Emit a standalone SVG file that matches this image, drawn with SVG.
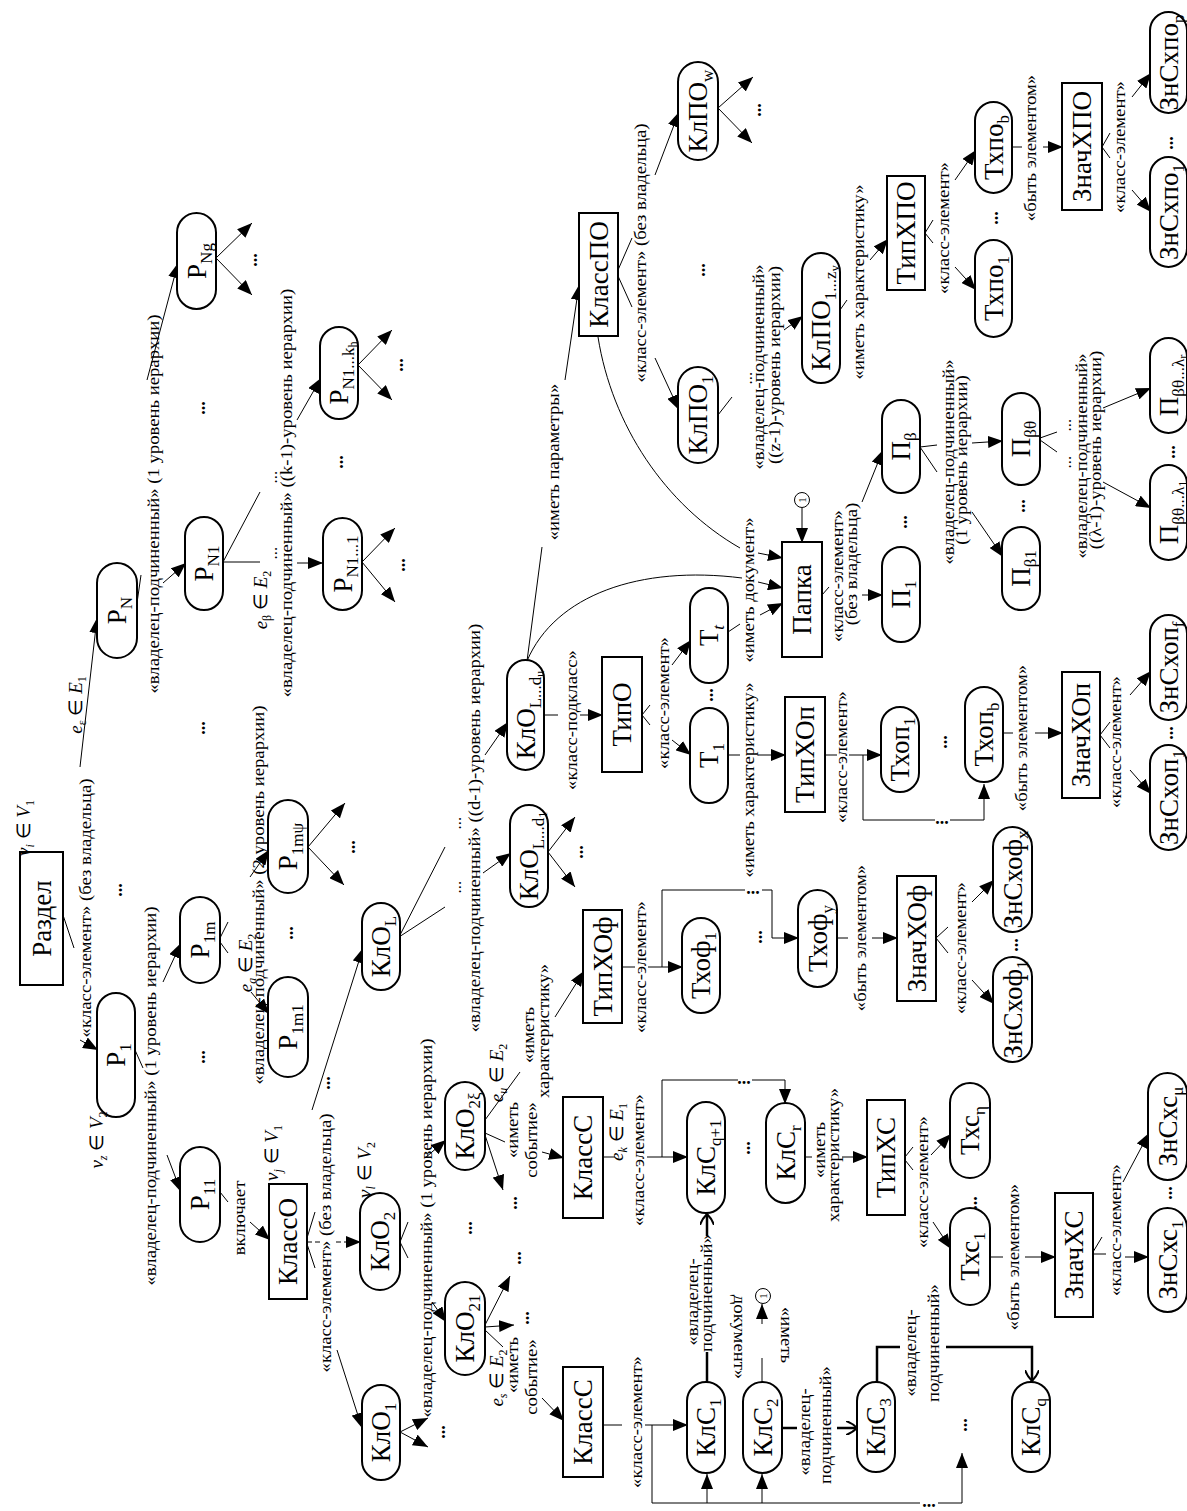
<svg xmlns="http://www.w3.org/2000/svg" width="1187" height="1511" viewBox="0 0 1187 1511">
<defs>
<marker id="a" viewBox="0 0 15 12" refX="15" refY="6" markerWidth="15" markerHeight="12" markerUnits="userSpaceOnUse" orient="auto"><path d="M0,0 L15,6 L0,12 z" fill="#000"/></marker>
<marker id="o" viewBox="0 0 12 14" refX="11" refY="7" markerWidth="12" markerHeight="14" markerUnits="userSpaceOnUse" orient="auto"><path d="M0,0 Q6,2 11,7 Q6,12 0,14" fill="none" stroke="#000" stroke-width="2"/></marker>
</defs>
<style>
.p{fill:#fff;stroke:#000;stroke-width:2}
.n{font-family:"Liberation Serif",serif;font-size:27px;text-anchor:middle}
.s{font-size:17px}
.ss{font-size:12px}
.l{font-family:"Liberation Serif",serif;font-size:17px;text-anchor:middle}
.e{font-family:"Liberation Serif",serif;font-size:19px;text-anchor:middle}
.i{font-style:italic}
.d{font-family:"Liberation Serif",serif;font-size:18px;font-weight:bold;text-anchor:middle}
.c line,.c path,.c polyline{fill:none;stroke:#000;stroke-width:1}
.c .t{stroke-width:2.5}
</style>
<rect width="1187" height="1511" fill="#fff"/>

<g id="connectors" class="c">
<line x1="63" y1="915" x2="74" y2="948"/>
<line x1="80" y1="1040" x2="98" y2="1050" marker-end="url(#a)"/>
<line x1="80" y1="767" x2="97" y2="618" marker-end="url(#a)"/>
<line x1="135" y1="1050" x2="143" y2="1068"/>
<line x1="163" y1="982" x2="181" y2="943" marker-end="url(#a)"/>
<line x1="167" y1="1155" x2="181" y2="1192" marker-end="url(#a)"/>
<line x1="137" y1="603" x2="141" y2="575"/>
<line x1="163" y1="583" x2="186" y2="563" marker-end="url(#a)"/>
<line x1="147" y1="380" x2="178" y2="263" marker-end="url(#a)"/>
<line x1="223" y1="562" x2="260" y2="562"/>
<line x1="223" y1="562" x2="260" y2="492"/>
<line x1="297" y1="563" x2="323" y2="563" marker-end="url(#a)"/>
<line x1="297" y1="420" x2="321" y2="378" marker-end="url(#a)"/>
<line x1="362" y1="562" x2="395" y2="528" marker-end="url(#a)"/>
<line x1="362" y1="562" x2="395" y2="602" marker-end="url(#a)"/>
<line x1="358" y1="365" x2="392" y2="330" marker-end="url(#a)"/>
<line x1="358" y1="365" x2="392" y2="400" marker-end="url(#a)"/>
<line x1="216" y1="258" x2="252" y2="223" marker-end="url(#a)"/>
<line x1="216" y1="258" x2="252" y2="295" marker-end="url(#a)"/>
<line x1="308" y1="847" x2="345" y2="803" marker-end="url(#a)"/>
<line x1="308" y1="847" x2="344" y2="885" marker-end="url(#a)"/>
<line x1="220" y1="938" x2="228" y2="922"/>
<line x1="220" y1="942" x2="228" y2="953"/>
<line x1="250" y1="877" x2="269" y2="850" marker-end="url(#a)"/>
<line x1="251" y1="992" x2="269" y2="1014" marker-end="url(#a)"/>
<line x1="220" y1="1192" x2="228" y2="1202"/>
<line x1="250" y1="1222" x2="270" y2="1240" marker-end="url(#a)"/>
<line x1="307" y1="1238" x2="315" y2="1212"/>
<line x1="307" y1="1244" x2="315" y2="1268"/>
<line x1="307" y1="1242" x2="320" y2="1242" stroke-dasharray="5 3"/>
<line x1="336" y1="1242" x2="361" y2="1242" stroke-dasharray="5 3" marker-end="url(#a)"/>
<line x1="337" y1="1350" x2="362" y2="1428" marker-end="url(#a)"/>
<line x1="312" y1="1110" x2="363" y2="948" marker-end="url(#a)"/>
<line x1="400" y1="1432" x2="428" y2="1418" marker-end="url(#a)"/>
<line x1="400" y1="1432" x2="428" y2="1447" marker-end="url(#a)"/>
<line x1="400" y1="1242" x2="408" y2="1222"/>
<line x1="400" y1="1242" x2="408" y2="1258"/>
<line x1="432" y1="1302" x2="446" y2="1322" marker-end="url(#a)"/>
<line x1="425" y1="1158" x2="446" y2="1140" marker-end="url(#a)"/>
<line x1="485" y1="1325" x2="510" y2="1276" marker-end="url(#a)"/>
<line x1="485" y1="1327" x2="514" y2="1325" marker-end="url(#a)"/>
<line x1="485" y1="1330" x2="503" y2="1347"/>
<line x1="542" y1="1398" x2="564" y2="1421" marker-end="url(#a)"/>
<line x1="485" y1="1133" x2="505" y2="1142"/>
<line x1="485" y1="1135" x2="503" y2="1190" marker-end="url(#a)"/>
<line x1="485" y1="1120" x2="520" y2="1072"/>
<line x1="542" y1="1152" x2="564" y2="1158" marker-end="url(#a)"/>
<line x1="555" y1="1017" x2="584" y2="971" marker-end="url(#a)"/>
<line x1="399" y1="937" x2="445" y2="847"/>
<line x1="399" y1="937" x2="445" y2="907"/>
<line x1="483" y1="873" x2="511" y2="853" marker-end="url(#a)"/>
<line x1="485" y1="755" x2="508" y2="722" marker-end="url(#a)"/>
<line x1="548" y1="852" x2="575" y2="817" marker-end="url(#a)"/>
<line x1="548" y1="852" x2="575" y2="887" marker-end="url(#a)"/>
<line x1="543" y1="715" x2="558" y2="715"/>
<line x1="580" y1="715" x2="603" y2="715" marker-end="url(#a)"/>
<line x1="527" y1="661" x2="542" y2="547"/>
<line x1="565" y1="380" x2="579" y2="285" marker-end="url(#a)"/>
<path d="M527,661 C555,595 640,565 742,578"/>
<line x1="758" y1="582" x2="783" y2="588" marker-end="url(#a)"/>
<path d="M598,337 C612,425 665,505 740,548"/>
<line x1="758" y1="553" x2="783" y2="558" marker-end="url(#a)"/>
<line x1="728" y1="632" x2="740" y2="624"/>
<line x1="760" y1="615" x2="783" y2="603" marker-end="url(#a)"/>
<line x1="642" y1="715" x2="650" y2="705"/>
<line x1="642" y1="715" x2="650" y2="725"/>
<line x1="672" y1="665" x2="691" y2="640" marker-end="url(#a)"/>
<line x1="672" y1="740" x2="691" y2="755" marker-end="url(#a)"/>
<line x1="728" y1="755" x2="740" y2="755"/>
<line x1="758" y1="755" x2="786" y2="755" marker-end="url(#a)"/>
<line x1="825" y1="755" x2="837" y2="755"/>
<line x1="849" y1="755" x2="882" y2="755" marker-end="url(#a)"/>
<polyline points="863,755 863,820 935,820"/>
<polyline points="950,820 984,820 984,784" marker-end="url(#a)"/>
<line x1="1003" y1="733" x2="1013" y2="733"/>
<line x1="1035" y1="733" x2="1063" y2="733" marker-end="url(#a)"/>
<line x1="1100" y1="735" x2="1110" y2="722"/>
<line x1="1100" y1="735" x2="1110" y2="748"/>
<line x1="1130" y1="695" x2="1151" y2="671" marker-end="url(#a)"/>
<line x1="1130" y1="770" x2="1151" y2="794" marker-end="url(#a)"/>
<line x1="622" y1="967" x2="635" y2="967"/>
<line x1="648" y1="967" x2="683" y2="967" marker-end="url(#a)"/>
<polyline points="662,967 662,890 745,890"/>
<polyline points="762,890 772,890 772,938 799,938" marker-end="url(#a)"/>
<line x1="837" y1="938" x2="848" y2="938"/>
<line x1="872" y1="938" x2="898" y2="938" marker-end="url(#a)"/>
<line x1="936" y1="938" x2="948" y2="927"/>
<line x1="936" y1="938" x2="948" y2="953"/>
<line x1="972" y1="902" x2="994" y2="880" marker-end="url(#a)"/>
<line x1="972" y1="980" x2="994" y2="1004" marker-end="url(#a)"/>
<line x1="603" y1="1425" x2="622" y2="1425"/>
<line x1="645" y1="1425" x2="688" y2="1425" marker-end="url(#a)"/>
<polyline points="652,1425 652,1503 920,1503"/>
<polyline points="938,1503 962,1503 962,1453" marker-end="url(#a)"/>
<line x1="707" y1="1503" x2="707" y2="1474" marker-end="url(#a)"/>
<line x1="762" y1="1503" x2="762" y2="1474" marker-end="url(#a)"/>
<line x1="603" y1="1157" x2="615" y2="1157"/>
<line x1="647" y1="1157" x2="688" y2="1157" marker-end="url(#a)"/>
<polyline points="662,1157 662,1080 738,1080"/>
<polyline points="752,1080 785,1080 785,1104" marker-end="url(#a)"/>
<line class="t" x1="707" y1="1382" x2="707" y2="1352"/>
<line class="t" x1="707" y1="1236" x2="707" y2="1214" marker-end="url(#o)"/>
<line x1="762" y1="1382" x2="762" y2="1358"/>
<line x1="762" y1="1324" x2="762" y2="1304" marker-end="url(#a)"/>
<line class="t" x1="782" y1="1428" x2="797" y2="1428"/>
<line class="t" x1="837" y1="1428" x2="857" y2="1428" marker-end="url(#o)"/>
<polyline class="t" points="877,1382 877,1347 900,1347"/>
<polyline class="t" points="946,1347 1032,1347 1032,1381" marker-end="url(#o)"/>
<line x1="805" y1="1157" x2="812" y2="1157"/>
<line x1="842" y1="1157" x2="868" y2="1157" marker-end="url(#a)"/>
<line x1="905" y1="1157" x2="913" y2="1147"/>
<line x1="905" y1="1160" x2="913" y2="1170"/>
<line x1="933" y1="1222" x2="951" y2="1249" marker-end="url(#a)"/>
<line x1="931" y1="1155" x2="951" y2="1134" marker-end="url(#a)"/>
<line x1="990" y1="1257" x2="1003" y2="1257"/>
<line x1="1025" y1="1257" x2="1056" y2="1257" marker-end="url(#a)"/>
<line x1="1093" y1="1252" x2="1102" y2="1237"/>
<line x1="1093" y1="1254" x2="1106" y2="1254"/>
<line x1="1125" y1="1257" x2="1149" y2="1257" marker-end="url(#a)"/>
<line x1="1123" y1="1182" x2="1149" y2="1133" marker-end="url(#a)"/>
<line x1="822" y1="595" x2="829" y2="587"/>
<line x1="862" y1="595" x2="883" y2="595" marker-end="url(#a)"/>
<line x1="862" y1="502" x2="883" y2="450" marker-end="url(#a)"/>
<line x1="802" y1="508" x2="802" y2="543" marker-end="url(#a)"/>
<line x1="920" y1="447" x2="937" y2="445"/>
<line x1="920" y1="447" x2="937" y2="472"/>
<line x1="972" y1="512" x2="1003" y2="557" marker-end="url(#a)"/>
<line x1="972" y1="443" x2="1003" y2="441" marker-end="url(#a)"/>
<line x1="1040" y1="438" x2="1057" y2="432"/>
<line x1="1040" y1="440" x2="1057" y2="452"/>
<line x1="1103" y1="482" x2="1151" y2="508" marker-end="url(#a)"/>
<line x1="1103" y1="408" x2="1151" y2="388" marker-end="url(#a)"/>
<line x1="618" y1="270" x2="632" y2="238"/>
<line x1="618" y1="276" x2="632" y2="307"/>
<line x1="655" y1="175" x2="679" y2="112" marker-end="url(#a)"/>
<line x1="655" y1="358" x2="679" y2="410" marker-end="url(#a)"/>
<line x1="718" y1="108" x2="753" y2="77" marker-end="url(#a)"/>
<line x1="718" y1="108" x2="752" y2="143" marker-end="url(#a)"/>
<line x1="718" y1="415" x2="732" y2="397"/>
<line x1="784" y1="330" x2="803" y2="316" marker-end="url(#a)"/>
<line x1="840" y1="310" x2="847" y2="300"/>
<line x1="870" y1="260" x2="888" y2="239" marker-end="url(#a)"/>
<line x1="925" y1="233" x2="933" y2="220"/>
<line x1="925" y1="233" x2="933" y2="243"/>
<line x1="955" y1="267" x2="976" y2="290" marker-end="url(#a)"/>
<line x1="955" y1="180" x2="976" y2="150" marker-end="url(#a)"/>
<line x1="1012" y1="147" x2="1022" y2="147"/>
<line x1="1043" y1="147" x2="1063" y2="147" marker-end="url(#a)"/>
<line x1="1102" y1="147" x2="1110" y2="133"/>
<line x1="1102" y1="147" x2="1110" y2="158"/>
<line x1="1132" y1="190" x2="1151" y2="212" marker-end="url(#a)"/>
<line x1="1132" y1="97" x2="1151" y2="73" marker-end="url(#a)"/>
</g>

<g id="nodes">
<g id="razdel"><rect class="p" x="20" y="852" width="43" height="133"/><text class="n" transform="translate(41.5,918.5) rotate(-90)" y="9">Раздел</text></g>
<g id="pN"><rect class="p" x="97" y="563" width="40" height="95" rx="20"/><text class="n" transform="translate(117,610.5) rotate(-90)" y="9">P<tspan class="s" dy="6">N</tspan></text></g>
<g id="pNg"><rect class="p" x="177" y="213" width="39" height="96" rx="19.5"/><text class="n" transform="translate(196.5,261) rotate(-90)" y="9">P<tspan class="s" dy="6">Ng</tspan></text></g>
<g id="pN1"><rect class="p" x="185" y="517" width="38" height="93" rx="19"/><text class="n" transform="translate(204,563.5) rotate(-90)" y="9">P<tspan class="s" dy="6">N1</tspan></text></g>
<g id="pN1_1"><rect class="p" x="323" y="518" width="39" height="92" rx="19.5"/><text class="n" transform="translate(342.5,564) rotate(-90)" y="9">P<tspan class="s" dy="6">N1...1</tspan></text></g>
<g id="pN1_k"><rect class="p" x="320" y="327" width="38" height="92" rx="19"/><text class="n" transform="translate(339,373) rotate(-90)" y="9">P<tspan class="s" dy="6">N1...k</tspan><tspan class="ss" dy="3">h</tspan></text></g>
<g id="p1"><rect class="p" x="97" y="993" width="38" height="124" rx="19"/><text class="n" transform="translate(116,1055) rotate(-90)" y="9">P<tspan class="s" dy="6">1</tspan></text></g>
<g id="p1m"><rect class="p" x="180" y="897" width="40" height="86" rx="20"/><text class="n" transform="translate(200,940) rotate(-90)" y="9">P<tspan class="s" dy="6">1m</tspan></text></g>
<g id="p11"><rect class="p" x="180" y="1147" width="40" height="95" rx="20"/><text class="n" transform="translate(200,1194.5) rotate(-90)" y="9">P<tspan class="s" dy="6">11</tspan></text></g>
<g id="p1m1"><rect class="p" x="268" y="977" width="40" height="100" rx="20"/><text class="n" transform="translate(288,1027) rotate(-90)" y="9">P<tspan class="s" dy="6">1m1</tspan></text></g>
<g id="p1mpsi"><rect class="p" x="268" y="800" width="40" height="93" rx="20"/><text class="n" transform="translate(288,846.5) rotate(-90)" y="9">P<tspan class="s" dy="6">1mψ</tspan></text></g>
<g id="klassO"><rect class="p" x="269" y="1184" width="38" height="115"/><text class="n" transform="translate(288,1241.5) rotate(-90)" y="9">КлассО</text></g>
<g id="kloL"><rect class="p" x="362" y="903" width="38" height="87" rx="19"/><text class="n" transform="translate(381,946.5) rotate(-90)" y="9">КлО<tspan class="s" dy="6">L</tspan></text></g>
<g id="klo1"><rect class="p" x="362" y="1385" width="38" height="95" rx="19"/><text class="n" transform="translate(381,1432.5) rotate(-90)" y="9">КлО<tspan class="s" dy="6">1</tspan></text></g>
<g id="klo2"><rect class="p" x="360" y="1193" width="40" height="97" rx="20"/><text class="n" transform="translate(380,1241.5) rotate(-90)" y="9">КлО<tspan class="s" dy="6">2</tspan></text></g>
<g id="klo21"><rect class="p" x="445" y="1282" width="40" height="93" rx="20"/><text class="n" transform="translate(465,1328.5) rotate(-90)" y="9">КлО<tspan class="s" dy="6">21</tspan></text></g>
<g id="klo2xi"><rect class="p" x="445" y="1082" width="40" height="88" rx="20"/><text class="n" transform="translate(465,1126) rotate(-90)" y="9">КлО<tspan class="s" dy="6">2ξ</tspan></text></g>
<g id="kloLd1"><rect class="p" x="510" y="805" width="38" height="102" rx="19"/><text class="n" transform="translate(529,856) rotate(-90)" y="9">КлО<tspan class="s" dy="6">L...d</tspan><tspan class="ss" dy="3">1</tspan></text></g>
<g id="kloLdu"><rect class="p" x="507" y="660" width="37" height="110" rx="18.5"/><text class="n" transform="translate(525.5,715) rotate(-90)" y="9">КлО<tspan class="s" dy="6">L...d</tspan><tspan class="ss" dy="3">u</tspan></text></g>
<g id="klassC1"><rect class="p" x="563" y="1367" width="40" height="110"/><text class="n" transform="translate(583,1422) rotate(-90)" y="9">КлассС</text></g>
<g id="klassC2"><rect class="p" x="563" y="1097" width="40" height="121"/><text class="n" transform="translate(583,1157.5) rotate(-90)" y="9">КлассС</text></g>
<g id="tipHOf"><rect class="p" x="583" y="910" width="39" height="113"/><text class="n" transform="translate(602.5,966.5) rotate(-90)" y="9">ТипХОф</text></g>
<g id="tipO"><rect class="p" x="602" y="657" width="40" height="115"/><text class="n" transform="translate(622,714.5) rotate(-90)" y="9">ТипО</text></g>
<g id="klassPO"><rect class="p" x="579" y="213" width="39" height="123"/><text class="n" transform="translate(598.5,274.5) rotate(-90)" y="9">КлассПО</text></g>
<g id="klpo1"><rect class="p" x="678" y="367" width="40" height="96" rx="20"/><text class="n" transform="translate(698,415) rotate(-90)" y="9">КлПО<tspan class="s" dy="6">1</tspan></text></g>
<g id="klpow"><rect class="p" x="678" y="62" width="40" height="98" rx="20"/><text class="n" transform="translate(698,111) rotate(-90)" y="9">КлПО<tspan class="s" dy="6">w</tspan></text></g>
<g id="klpo1z"><rect class="p" x="802" y="253" width="38" height="130" rx="19"/><text class="n" transform="translate(821,318) rotate(-90)" y="9">КлПО<tspan class="s" dy="6">1...z</tspan><tspan class="ss" dy="3">v</tspan></text></g>
<g id="Tt"><rect class="p" x="690" y="588" width="38" height="95" rx="19"/><text class="n" transform="translate(709,635.5) rotate(-90)" y="9">T<tspan class="s i" dy="6">t</tspan></text></g>
<g id="T1"><rect class="p" x="690" y="708" width="38" height="95" rx="19"/><text class="n" transform="translate(709,755.5) rotate(-90)" y="9">T<tspan class="s" dy="6">1</tspan></text></g>
<g id="thof1"><rect class="p" x="682" y="918" width="38" height="95" rx="19"/><text class="n" transform="translate(701,965.5) rotate(-90)" y="9">Тхоф<tspan class="s" dy="6">1</tspan></text></g>
<g id="klc1"><rect class="p" x="687" y="1382" width="38" height="91" rx="19"/><text class="n" transform="translate(706,1427.5) rotate(-90)" y="9">КлС<tspan class="s" dy="6">1</tspan></text></g>
<g id="klc2"><rect class="p" x="743" y="1382" width="39" height="91" rx="19.5"/><text class="n" transform="translate(762.5,1427.5) rotate(-90)" y="9">КлС<tspan class="s" dy="6">2</tspan></text></g>
<g id="klcq1"><rect class="p" x="687" y="1102" width="38" height="111" rx="19"/><text class="n" transform="translate(706,1157.5) rotate(-90)" y="9">КлС<tspan class="s" dy="6">q+1</tspan></text></g>
<g id="klcr"><rect class="p" x="766" y="1103" width="39" height="100" rx="19.5"/><text class="n" transform="translate(785.5,1153) rotate(-90)" y="9">КлС<tspan class="s" dy="6">r</tspan></text></g>
<g id="papka"><rect class="p" x="782" y="542" width="40" height="115"/><text class="n" transform="translate(802,599.5) rotate(-90)" y="9">Папка</text></g>
<g id="tipHOp"><rect class="p" x="785" y="697" width="40" height="115"/><text class="n" transform="translate(805,754.5) rotate(-90)" y="9">ТипХОп</text></g>
<g id="thofy"><rect class="p" x="798" y="890" width="39" height="97" rx="19.5"/><text class="n" transform="translate(817.5,938.5) rotate(-90)" y="9">Тхоф<tspan class="s" dy="6">y</tspan></text></g>
<g id="klc3"><rect class="p" x="857" y="1382" width="38" height="90" rx="19"/><text class="n" transform="translate(876,1427) rotate(-90)" y="9">КлС<tspan class="s" dy="6">3</tspan></text></g>
<g id="tipHS"><rect class="p" x="867" y="1100" width="38" height="115"/><text class="n" transform="translate(886,1157.5) rotate(-90)" y="9">ТипХС</text></g>
<g id="tipHPO"><rect class="p" x="887" y="176" width="38" height="114"/><text class="n" transform="translate(906,233) rotate(-90)" y="9">ТипХПО</text></g>
<g id="P_1"><rect class="p" x="882" y="547" width="38" height="95" rx="19"/><text class="n" transform="translate(901,594.5) rotate(-90)" y="9">П<tspan class="s" dy="6">1</tspan></text></g>
<g id="P_b"><rect class="p" x="882" y="400" width="38" height="93" rx="19"/><text class="n" transform="translate(901,446.5) rotate(-90)" y="9">П<tspan class="s" dy="6">β</tspan></text></g>
<g id="thop1"><rect class="p" x="881" y="707" width="38" height="85" rx="19"/><text class="n" transform="translate(900,749.5) rotate(-90)" y="9">Тхоп<tspan class="s" dy="6">1</tspan></text></g>
<g id="znachHOf"><rect class="p" x="897" y="876" width="39" height="125"/><text class="n" transform="translate(916.5,938.5) rotate(-90)" y="9">ЗначХОф</text></g>
<g id="ths1"><rect class="p" x="950" y="1208" width="40" height="97" rx="20"/><text class="n" transform="translate(970,1256.5) rotate(-90)" y="9">Тхс<tspan class="s" dy="6">1</tspan></text></g>
<g id="thseta"><rect class="p" x="950" y="1083" width="40" height="95" rx="20"/><text class="n" transform="translate(970,1130.5) rotate(-90)" y="9">Тхс<tspan class="s" dy="6">η</tspan></text></g>
<g id="thpo1"><rect class="p" x="975" y="240" width="37" height="97" rx="18.5"/><text class="n" transform="translate(993.5,288.5) rotate(-90)" y="9">Тхпо<tspan class="s" dy="6">1</tspan></text></g>
<g id="thpob"><rect class="p" x="975" y="102" width="37" height="91" rx="18.5"/><text class="n" transform="translate(993.5,147.5) rotate(-90)" y="9">Тхпо<tspan class="s" dy="6">b</tspan></text></g>
<g id="thopb"><rect class="p" x="965" y="687" width="38" height="95" rx="19"/><text class="n" transform="translate(984,734.5) rotate(-90)" y="9">Тхоп<tspan class="s" dy="6">b</tspan></text></g>
<g id="znshof1"><rect class="p" x="993" y="957" width="39" height="105" rx="19.5"/><text class="n" transform="translate(1012.5,1009.5) rotate(-90)" y="9">ЗнСхоф<tspan class="s" dy="6">1</tspan></text></g>
<g id="znshofx"><rect class="p" x="993" y="827" width="39" height="105" rx="19.5"/><text class="n" transform="translate(1012.5,879.5) rotate(-90)" y="9">ЗнСхоф<tspan class="s" dy="6">x</tspan></text></g>
<g id="P_b1"><rect class="p" x="1002" y="527" width="38" height="83" rx="19"/><text class="n" transform="translate(1021,568.5) rotate(-90)" y="9">П<tspan class="s" dy="6">β1</tspan></text></g>
<g id="P_bt"><rect class="p" x="1002" y="393" width="38" height="92" rx="19"/><text class="n" transform="translate(1021,439) rotate(-90)" y="9">П<tspan class="s" dy="6">βθ</tspan></text></g>
<g id="klcq"><rect class="p" x="1012" y="1382" width="38" height="90" rx="19"/><text class="n" transform="translate(1031,1427) rotate(-90)" y="9">КлС<tspan class="s" dy="6">q</tspan></text></g>
<g id="znachHS"><rect class="p" x="1055" y="1193" width="38" height="124"/><text class="n" transform="translate(1074,1255) rotate(-90)" y="9">ЗначХС</text></g>
<g id="znachHOp"><rect class="p" x="1062" y="672" width="38" height="126"/><text class="n" transform="translate(1081,735) rotate(-90)" y="9">ЗначХОп</text></g>
<g id="znachHPO"><rect class="p" x="1062" y="83" width="40" height="127"/><text class="n" transform="translate(1082,146.5) rotate(-90)" y="9">ЗначХПО</text></g>
<g id="P_btl1"><rect class="p" x="1150" y="465" width="37" height="95" rx="18.5"/><text class="n" transform="translate(1168.5,512.5) rotate(-90)" y="9">П<tspan class="s" dy="6">βθ...λ</tspan><tspan class="ss" dy="3">1</tspan></text></g>
<g id="P_btlr"><rect class="p" x="1150" y="338" width="37" height="95" rx="18.5"/><text class="n" transform="translate(1168.5,385.5) rotate(-90)" y="9">П<tspan class="s" dy="6">βθ...λ</tspan><tspan class="ss" dy="3">r</tspan></text></g>
<g id="znshop1"><rect class="p" x="1150" y="745" width="37" height="105" rx="18.5"/><text class="n" transform="translate(1168.5,797.5) rotate(-90)" y="9">ЗнСхоп<tspan class="s" dy="6">1</tspan></text></g>
<g id="znshopf"><rect class="p" x="1150" y="615" width="37" height="105" rx="18.5"/><text class="n" transform="translate(1168.5,667.5) rotate(-90)" y="9">ЗнСхоп<tspan class="s" dy="6">f</tspan></text></g>
<g id="znshpo1"><rect class="p" x="1150" y="157" width="37" height="110" rx="18.5"/><text class="n" transform="translate(1168.5,212) rotate(-90)" y="9">ЗнСхпо<tspan class="s" dy="6">1</tspan></text></g>
<g id="znshpop"><rect class="p" x="1150" y="12" width="37" height="101" rx="18.5"/><text class="n" transform="translate(1168.5,62.5) rotate(-90)" y="9">ЗнСхпо<tspan class="s" dy="6">p</tspan></text></g>
<g id="znshs1"><rect class="p" x="1148" y="1208" width="39" height="104" rx="19.5"/><text class="n" transform="translate(1167.5,1260) rotate(-90)" y="9">ЗнСхс<tspan class="s" dy="6">1</tspan></text></g>
<g id="znshsmu"><rect class="p" x="1148" y="1073" width="39" height="107" rx="19.5"/><text class="n" transform="translate(1167.5,1126.5) rotate(-90)" y="9">ЗнСхс<tspan class="s" dy="6">μ</tspan></text></g>
<g id="ref1a"><circle cx="763" cy="1296" r="7.5" fill="#fff" stroke="#000"/><text class="l" style="font-size:11px" transform="translate(763,1296) rotate(-90)" y="4">1</text></g>
<g id="ref1b"><circle cx="802" cy="500" r="7.5" fill="#fff" stroke="#000"/><text class="l" style="font-size:11px" transform="translate(802,500) rotate(-90)" y="4">1</text></g>
</g>

<g id="labels">
<text class="l" transform="translate(87,908) rotate(-90) scale(1.1,1)" y="4">«класс-элемент» (без владельца)</text>
<text class="e" transform="translate(76,705) rotate(-90)" y="6"><tspan class="i">e</tspan><tspan font-size="12" dy="4">ε</tspan><tspan dy="-4"> ∈ </tspan><tspan class="i">E</tspan><tspan font-size="12" dy="4">1</tspan></text>
<text class="e" transform="translate(24,828) rotate(-90)" y="6"><tspan class="i">v</tspan><tspan class="i" font-size="12" dy="4">i</tspan><tspan dy="-4"> ∈ </tspan><tspan class="i">V</tspan><tspan font-size="12" dy="4">1</tspan></text>
<text class="e" transform="translate(97,1140) rotate(-90)" y="6"><tspan class="i">v</tspan><tspan class="i" font-size="12" dy="4">z</tspan><tspan dy="-4"> ∈ </tspan><tspan class="i">V</tspan><tspan font-size="12" dy="4">2</tspan></text>
<text class="l" transform="translate(152,1096) rotate(-90) scale(1.1,1)" y="4">«владелец-подчиненный» (1 уровень иерархии)</text>
<text class="l" transform="translate(155,504) rotate(-90) scale(1.1,1)" y="4">«владелец-подчиненный» (1 уровень иерархии)</text>
<text class="l" transform="translate(260,895) rotate(-90) scale(1.1,1)" y="4">«владелец-подчиненный» (2 уровень иерархии)</text>
<text class="e" transform="translate(246,963) rotate(-90)" y="6"><tspan class="i">e</tspan><tspan class="i" font-size="12" dy="4">a</tspan><tspan dy="-4"> ∈ </tspan><tspan class="i">E</tspan><tspan font-size="12" dy="4">2</tspan></text>
<text class="e" transform="translate(261,600) rotate(-90)" y="6"><tspan class="i">e</tspan><tspan font-size="12" dy="4">β</tspan><tspan dy="-4"> ∈ </tspan><tspan class="i">E</tspan><tspan font-size="12" dy="4">2</tspan></text>
<text class="l" transform="translate(288,493) rotate(-90) scale(1.1,1)" y="4">«владелец-подчиненный» ((k-1)-уровень иерархии)</text>
<text class="l" transform="translate(241,1218) rotate(-90) scale(1.1,1)" y="4">включает</text>
<text class="e" transform="translate(272,1153) rotate(-90)" y="6"><tspan class="i">v</tspan><tspan class="i" font-size="12" dy="4">j</tspan><tspan dy="-4"> ∈ </tspan><tspan class="i">V</tspan><tspan font-size="12" dy="4">1</tspan></text>
<text class="l" transform="translate(327,1243) rotate(-90) scale(1.1,1)" y="4">«класс-элемент» (без владельца)</text>
<text class="e" transform="translate(365,1170) rotate(-90)" y="6"><tspan class="i">v</tspan><tspan class="i" font-size="12" dy="4">l</tspan><tspan dy="-4"> ∈ </tspan><tspan class="i">V</tspan><tspan font-size="12" dy="4">2</tspan></text>
<text class="l" transform="translate(428,1228) rotate(-90) scale(1.1,1)" y="4">«владелец-подчиненный» (1 уровень иерархии)</text>
<text class="l" transform="translate(476,828) rotate(-90) scale(1.1,1)" y="4">«владелец-подчиненный» ((d-1)-уровень иерархии)</text>
<text class="e" transform="translate(497,1378) rotate(-90)" y="6"><tspan class="i">e</tspan><tspan class="i" font-size="12" dy="4">s</tspan><tspan dy="-4"> ∈ </tspan><tspan class="i">E</tspan><tspan font-size="12" dy="4">2</tspan></text>
<text class="l" transform="translate(514,1365) rotate(-90) scale(1.1,1)" y="4">«иметь</text>
<text class="l" transform="translate(533,1377) rotate(-90) scale(1.1,1)" y="4">событие»</text>
<text class="l" transform="translate(514,1130) rotate(-90) scale(1.1,1)" y="4">«иметь</text>
<text class="l" transform="translate(533,1140) rotate(-90) scale(1.1,1)" y="4">событие»</text>
<text class="e" transform="translate(497,1073) rotate(-90)" y="6"><tspan class="i">e</tspan><tspan class="i" font-size="12" dy="4">u</tspan><tspan dy="-4"> ∈ </tspan><tspan class="i">E</tspan><tspan font-size="12" dy="4">2</tspan></text>
<text class="l" transform="translate(530,1035) rotate(-90) scale(1.1,1)" y="4">«иметь</text>
<text class="l" transform="translate(545,1031) rotate(-90) scale(1.1,1)" y="4">характеристику»</text>
<text class="l" transform="translate(638,1422) rotate(-90) scale(1.1,1)" y="4">«класс-элемент»</text>
<text class="e" transform="translate(617,1132) rotate(-90)" y="6"><tspan class="i">e</tspan><tspan class="i" font-size="12" dy="4">k</tspan><tspan dy="-4"> ∈ </tspan><tspan class="i">E</tspan><tspan font-size="12" dy="4">1</tspan></text>
<text class="l" transform="translate(640,1160) rotate(-90) scale(1.1,1)" y="4">«класс-элемент»</text>
<text class="l" transform="translate(555,462) rotate(-90) scale(1.1,1)" y="4">«иметь параметры»</text>
<text class="l" transform="translate(573,720) rotate(-90) scale(1.1,1)" y="4">«класс-подкласс»</text>
<text class="l" transform="translate(665,703) rotate(-90) scale(1.1,1)" y="4">«класс-элемент»</text>
<text class="l" transform="translate(642,253) rotate(-90) scale(1.1,1)" y="4">«класс-элемент» (без владельца)</text>
<text class="l" transform="translate(642,967) rotate(-90) scale(1.1,1)" y="4">«класс-элемент»</text>
<text class="l" transform="translate(750,590) rotate(-90) scale(1.1,1)" y="4">«иметь документ»</text>
<text class="l" transform="translate(750,780) rotate(-90) scale(1.1,1)" y="4">«иметь характеристику»</text>
<text class="l" transform="translate(694,1302) rotate(-90) scale(1.1,1)" y="4">«владелец-</text>
<text class="l" transform="translate(708,1293) rotate(-90) scale(1.1,1)" y="4">подчиненный»</text>
<text class="l" transform="translate(785,1335) rotate(90) scale(1.1,1)" y="4">«иметь</text>
<text class="l" transform="translate(738,1337) rotate(90) scale(1.1,1)" y="4">документ»</text>
<text class="l" transform="translate(806,1432) rotate(-90) scale(1.1,1)" y="4">«владелец-</text>
<text class="l" transform="translate(827,1425) rotate(-90) scale(1.1,1)" y="4">подчиненный»</text>
<text class="l" transform="translate(912,1353) rotate(-90) scale(1.1,1)" y="4">«владелец-</text>
<text class="l" transform="translate(935,1343) rotate(-90) scale(1.1,1)" y="4">подчиненный»</text>
<text class="l" transform="translate(821,1150) rotate(-90) scale(1.1,1)" y="4">«иметь</text>
<text class="l" transform="translate(835,1155) rotate(-90) scale(1.1,1)" y="4">характеристику»</text>
<text class="l" transform="translate(924,1182) rotate(-90) scale(1.1,1)" y="4">«класс-элемент»</text>
<text class="l" transform="translate(1015,1257) rotate(-90) scale(1.1,1)" y="4">«быть элементом»</text>
<text class="l" transform="translate(1117,1230) rotate(-90) scale(1.1,1)" y="4">«класс-элемент»</text>
<text class="l" transform="translate(843,757) rotate(-90) scale(1.1,1)" y="4">«класс-элемент»</text>
<text class="l" transform="translate(1023,738) rotate(-90) scale(1.1,1)" y="4">«быть элементом»</text>
<text class="l" transform="translate(1117,742) rotate(-90) scale(1.1,1)" y="4">«класс-элемент»</text>
<text class="l" transform="translate(862,938) rotate(-90) scale(1.1,1)" y="4">«быть элементом»</text>
<text class="l" transform="translate(962,948) rotate(-90) scale(1.1,1)" y="4">«класс-элемент»</text>
<text class="l" transform="translate(839,576) rotate(-90) scale(1.1,1)" y="4">«класс-элемент»</text>
<text class="l" transform="translate(853,564) rotate(-90) scale(1.1,1)" y="4">(без владельца)</text>
<text class="l" transform="translate(950,462) rotate(-90) scale(1.1,1)" y="4">«владелец-подчиненный»</text>
<text class="l" transform="translate(963,460) rotate(-90) scale(1.1,1)" y="4">(1 уровень иерархии)</text>
<text class="l" transform="translate(1083,456) rotate(-90) scale(1.1,1)" y="4">«владелец-подчиненный»</text>
<text class="l" transform="translate(1097,450) rotate(-90) scale(1.1,1)" y="4">((λ-1)-уровень иерархии)</text>
<text class="l" transform="translate(760,367) rotate(-90) scale(1.1,1)" y="4">«владелец-подчиненный»</text>
<text class="l" transform="translate(776,365) rotate(-90) scale(1.1,1)" y="4">((z-1)-уровень иерархии)</text>
<text class="l" transform="translate(860,282) rotate(-90) scale(1.1,1)" y="4">«иметь характеристику»</text>
<text class="l" transform="translate(945,228) rotate(-90) scale(1.1,1)" y="4">«класс-элемент»</text>
<text class="l" transform="translate(1032,148) rotate(-90) scale(1.1,1)" y="4">«быть элементом»</text>
<text class="l" transform="translate(1121,147) rotate(-90) scale(1.1,1)" y="4">«класс-элемент»</text>
</g>

<g id="dots">
<text class="d" transform="translate(117,890) rotate(-90)" y="5">...</text>
<text class="d" transform="translate(200,1057) rotate(-90)" y="5">...</text>
<text class="d" transform="translate(200,728) rotate(-90)" y="5">...</text>
<text class="d" transform="translate(200,408) rotate(-90)" y="5">...</text>
<text class="d" transform="translate(288,933) rotate(-90)" y="5">...</text>
<text class="d" transform="translate(338,462) rotate(-90)" y="5">...</text>
<text class="d" transform="translate(325,1083) rotate(-90)" y="5">...</text>
<text class="d" transform="translate(252,260) rotate(-90)" y="5">...</text>
<text class="d" transform="translate(400,565) rotate(-90)" y="5">...</text>
<text class="d" transform="translate(398,365) rotate(-90)" y="5">...</text>
<text class="d" transform="translate(350,847) rotate(-90)" y="5">...</text>
<text class="d" transform="translate(440,1432) rotate(-90)" y="5">...</text>
<text class="d" transform="translate(467,1228) rotate(-90)" y="5">...</text>
<text class="d" transform="translate(516,1258) rotate(-90)" y="5">...</text>
<text class="d" transform="translate(524,1318) rotate(-90)" y="5">...</text>
<text class="d" transform="translate(512,1203) rotate(-90)" y="5">...</text>
<text class="d" transform="translate(578,852) rotate(-90)" y="5">...</text>
<text class="d" transform="translate(700,270) rotate(-90)" y="5">...</text>
<text class="d" transform="translate(756,110) rotate(-90)" y="5">...</text>
<text class="d" transform="translate(708,695) rotate(-90)" y="5">...</text>
<text class="d" transform="translate(745,1148) rotate(-90)" y="5">...</text>
<text class="d" transform="translate(757,937) rotate(-90)" y="5">...</text>
<text class="d" transform="translate(942,742) rotate(-90)" y="5">...</text>
<text class="d" transform="translate(962,1425) rotate(-90)" y="5">...</text>
<text class="d" transform="translate(902,522) rotate(-90)" y="5">...</text>
<text class="d" transform="translate(1020,506) rotate(-90)" y="5">...</text>
<text class="d" transform="translate(1013,945) rotate(-90)" y="5">...</text>
<text class="d" transform="translate(972,1203) rotate(-90)" y="5">...</text>
<text class="d" transform="translate(993,218) rotate(-90)" y="5">...</text>
<text class="d" transform="translate(1168,143) rotate(-90)" y="5">...</text>
<text class="d" transform="translate(1168,733) rotate(-90)" y="5">...</text>
<text class="d" transform="translate(1167,1193) rotate(-90)" y="5">...</text>
<text class="d" transform="translate(1170,452) rotate(-90)" y="5">...</text>
<text class="l" transform="translate(273,553) rotate(-90)" y="4">...</text>
<text class="l" transform="translate(273,477) rotate(-90)" y="4">...</text>
<text class="l" transform="translate(457,887) rotate(-90)" y="4">...</text>
<text class="l" transform="translate(457,823) rotate(-90)" y="4">...</text>
<text class="l" transform="translate(748,378) rotate(-90)" y="4">...</text>
<text class="l" transform="translate(1067,425) rotate(-90)" y="4">...</text>
<text class="l" transform="translate(1067,462) rotate(-90)" y="4">...</text>
<text class="d" x="753" y="894">...</text>
<text class="d" x="942" y="824">...</text>
<text class="d" x="744" y="1084">...</text>
<text class="d" x="929" y="1507">...</text>
</g>
</svg>
